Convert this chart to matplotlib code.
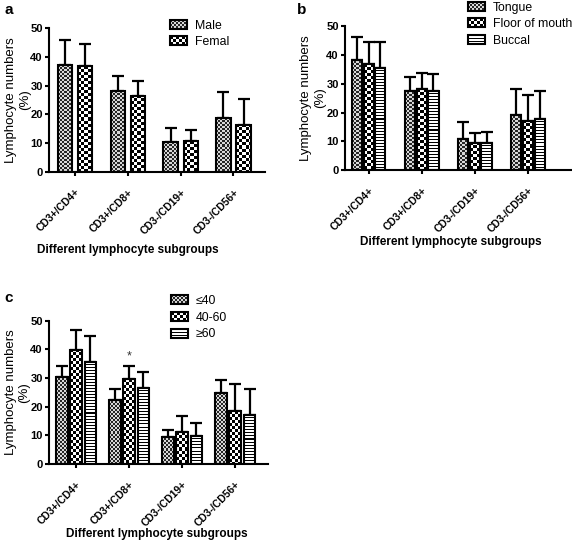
import numpy as np
import matplotlib.pyplot as plt
from matplotlib.patches import Rectangle
from matplotlib.legend_handler import HandlerBase
from matplotlib.image import BboxImage
from matplotlib.transforms import Bbox, TransformedBbox

plt.rcParams['font.family'] = ['Liberation Sans', 'DejaVu Sans']

categories = ["CD3+/CD4+", "CD3+/CD8+", "CD3-/CD19+", "CD3-/CD56+"]

# panel a: gender
gender_names = ["Male", "Femal"]
male_mean = [37.2, 28.0, 10.3, 18.6]
male_err = [8.6, 5.5, 5.0, 9.2]
femal_mean = [36.7, 26.5, 10.7, 16.4]
femal_err = [7.8, 5.0, 3.7, 8.9]

# panel b: site
site_names = ["Tongue", "Floor of mouth", "Buccal"]
tongue_mean = [38.2, 27.4, 10.8, 19.3]
tongue_err = [7.9, 4.9, 6.0, 8.9]
floor_mean = [36.7, 28.0, 9.6, 17.0]
floor_err = [7.9, 5.6, 3.2, 9.1]
buccal_mean = [35.4, 27.5, 9.6, 17.8]
buccal_err = [9.0, 5.9, 3.8, 9.6]

# panel c: age
age_names = ["\u226440", "40-60", "\u226560"]
age1_mean = [30.5, 22.4, 9.5, 24.8]
age1_err = [3.8, 3.8, 2.2, 4.7]
age2_mean = [39.9, 29.7, 11.0, 18.5]
age2_err = [6.8, 4.6, 5.9, 9.5]
age3_mean = [35.8, 26.6, 9.9, 17.2]
age3_err = [8.9, 5.4, 4.3, 9.0]

PATTERNS = ["fine", "coarse", "stripe"]


def texture(kind, nx, ny):
    # one array cell per screen pixel
    j, i = np.meshgrid(np.arange(nx), np.arange(ny))
    if kind == "fine":
        m = ((i // 2 + j // 2) % 2).astype(float)
        lo, hi = 0.15, 0.85
    elif kind == "coarse":
        m = ((i // 3 + j // 3) % 2).astype(float)
        lo, hi = 0.0, 1.0
    else:
        m = (i % 3 != 0).astype(float)
        lo, hi = 0.0, 1.0
    v = lo + (hi - lo) * m
    return np.dstack([v, v, v])


class TextureHandler(HandlerBase):
    def __init__(self, kind):
        super().__init__()
        self.kind = kind

    def create_artists(self, legend, orig_handle, xdescent, ydescent, width,
                       height, fontsize, trans):
        bb = TransformedBbox(Bbox.from_bounds(-xdescent, -ydescent, width, height), trans)
        img = BboxImage(bb, interpolation="nearest")
        img.set_data(texture(self.kind, int(width * 1.39) + 1, int(height * 1.39) + 1))
        rect = Rectangle((-xdescent, -ydescent), width, height, fill=False,
                         edgecolor="black", linewidth=1.5, transform=trans)
        return [img, rect]


def drawPanel(fig, ax, means, errs, names, offsets, width, xlim, legendPos, xlabelPos):
    x = np.arange(len(categories))
    ax.set_xlim(*xlim)
    ax.set_ylim(0, 50)
    fig.canvas.draw()
    handles = []
    for i in range(len(means)):
        bars = ax.bar(x + offsets[i], means[i], width, facecolor="none",
                      edgecolor="black", linewidth=1.5, zorder=3)
        for b in bars:
            x0, x1 = b.get_x(), b.get_x() + b.get_width()
            y1 = b.get_height()
            p0 = ax.transData.transform((x0, 0))
            p1 = ax.transData.transform((x1, y1))
            nx = max(int(round(p1[0] - p0[0])), 1)
            ny = max(int(round(p1[1] - p0[1])), 1)
            im = ax.imshow(texture(PATTERNS[i], nx, ny), extent=(x0, x1, 0, y1),
                           interpolation="nearest", aspect="auto", zorder=2)
            im.set_clip_path(b)
        ax.errorbar(x + offsets[i], means[i], yerr=[np.zeros(len(x)), errs[i]],
                    fmt="none", ecolor="black", elinewidth=1.6, capsize=4,
                    capthick=1.6, zorder=1)
        handles.append(Rectangle((0, 0), 1, 1))
    ax.set_xlim(*xlim)
    ax.set_ylim(0, 50)
    ax.set_yticks(range(0, 51, 10))
    ax.set_xticks(x)
    ax.set_xticklabels(categories, rotation=45, ha="right", rotation_mode="anchor",
                       fontsize=7.5, fontweight="bold")
    for lab in ax.get_yticklabels():
        lab.set_fontweight("bold")
        lab.set_fontsize(8)
    for s in ["top", "right"]:
        ax.spines[s].set_visible(False)
    for s in ["left", "bottom"]:
        ax.spines[s].set_linewidth(1.5)
    ax.tick_params(width=1.5, length=3)
    ax.tick_params(axis="y", pad=1.5)
    ax.tick_params(axis="x", pad=8)
    ax.set_ylabel("Lymphocyte numbers\n(%)", fontsize=9.5, linespacing=1.15)
    ax.yaxis.set_label_coords(-0.085, 0.5)
    ax.set_xlabel("Different lymphocyte subgroups", fontsize=8.5, fontweight="bold")
    ax.xaxis.set_label_coords(*xlabelPos)
    hmap = {h: TextureHandler(PATTERNS[k]) for k, h in enumerate(handles)}
    ax.legend(handles, names, handler_map=hmap, loc="upper left",
              bbox_to_anchor=legendPos, frameon=False, fontsize=8.8,
              handlelength=1.4, handleheight=0.75, labelspacing=0.38,
              handletextpad=0.65, borderaxespad=0, borderpad=0)


fig = plt.figure(figsize=(5.72, 5.42), dpi=100)
axA = fig.add_axes([0.0857, 0.683, 0.377, 0.265])
axB = fig.add_axes([0.603, 0.686, 0.395, 0.266])
axC = fig.add_axes([0.0857, 0.144, 0.383, 0.264])

drawPanel(fig, axA, [male_mean, femal_mean], [male_err, femal_err], gender_names,
          [-0.19, 0.19], 0.27, (-0.49, 3.59), (0.56, 1.06), (0.366, -0.50))
drawPanel(fig, axB, [tongue_mean, floor_mean, buccal_mean],
          [tongue_err, floor_err, buccal_err], site_names, [-0.22, 0.0, 0.22], 0.19,
          (-0.45, 3.81), (0.544, 1.17), (0.469, -0.455))
drawPanel(fig, axC, [age1_mean, age2_mean, age3_mean], [age1_err, age2_err, age3_err],
          age_names, [-0.27, 0.0, 0.27], 0.22, (-0.51, 3.62), (0.557, 1.18),
          (0.49, -0.445))

# significance mark
axC.text(1.0, 35.5, "*", ha="center", va="bottom", fontsize=9, color="#333333")

fig.text(0.008, 0.995, "a", fontsize=11, fontweight="bold", va="top")
fig.text(0.519, 0.995, "b", fontsize=11, fontweight="bold", va="top")
fig.text(0.008, 0.463, "c", fontsize=11, fontweight="bold", va="top")

fig.savefig("out.png", dpi=100)
